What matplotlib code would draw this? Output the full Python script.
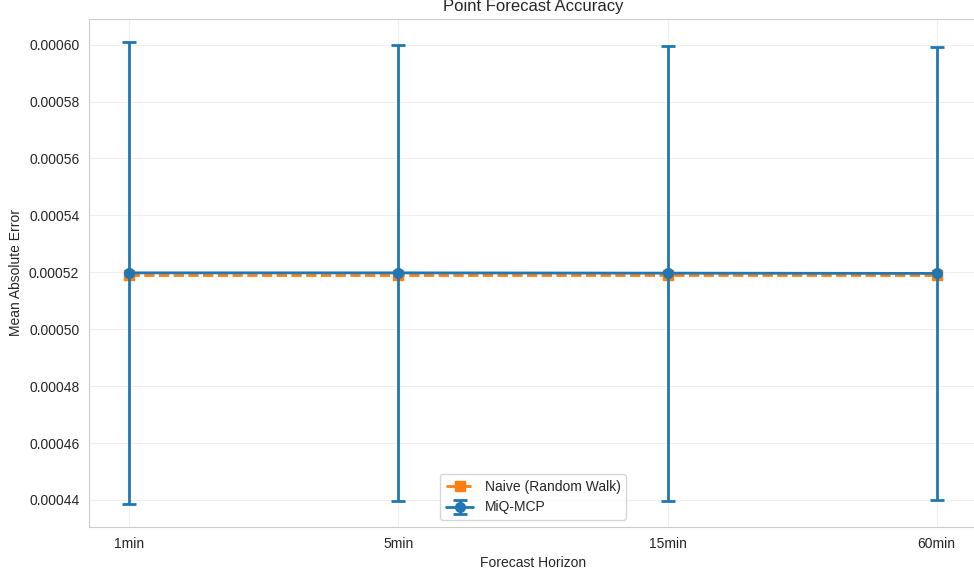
import numpy as np
import matplotlib.pyplot as plt
import seaborn as sns

sns.set_style('whitegrid')
plt.rcParams['font.family'] = ['Liberation Sans', 'DejaVu Sans']

horizons = ['1min', '5min', '15min', '60min']
naive_mae = [0.000519, 0.000519, 0.000519, 0.000519]
miq_mae = [0.0005198, 0.0005198, 0.0005197, 0.0005196]
miq_err = [0.0000812, 0.0000800, 0.0000799, 0.0000797]

x = np.arange(len(horizons))

fig = plt.figure(figsize=(9.74, 5.74), dpi=100)
ax = fig.add_axes([0.0914, 0.0819, 0.9117, 0.885])

ax.plot(x, naive_mae, color='#ff7f0e', linestyle='--', marker='s',
        linewidth=2, markersize=7, label='Naive (Random Walk)')
ax.errorbar(x, miq_mae, yerr=miq_err, color='#1f77b4', marker='o',
            linewidth=2, markersize=7, capsize=5, capthick=2,
            elinewidth=2, label='MiQ-MCP')

ax.set_xticks(x)
ax.set_xticklabels(horizons)
ax.set_ylim(0.0004305, 0.000609)
ax.yaxis.set_major_formatter(plt.FormatStrFormatter('%.5f'))
ax.tick_params(labelsize=10)
ax.set_xlabel('Forecast Horizon', fontsize=10)
ax.set_ylabel('Mean Absolute Error', fontsize=10)
ax.set_title('Point Forecast Accuracy', fontsize=12)
ax.grid(True, alpha=0.3)
ax.legend(loc='lower center', fontsize=10)

fig.savefig('out.png', dpi=100)
